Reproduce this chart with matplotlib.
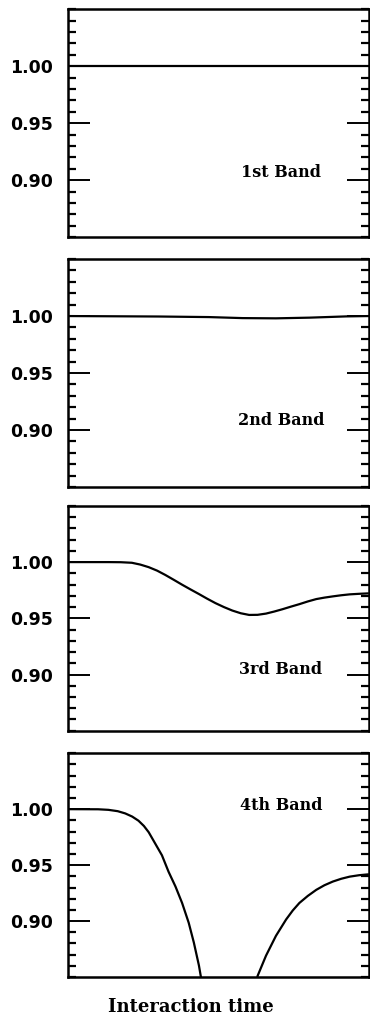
import matplotlib
matplotlib.use('Agg')
import matplotlib.pyplot as plt
import numpy as np
from matplotlib.ticker import MultipleLocator, FixedLocator

# data (x is interaction time, 0..1)
x1 = [0.0, 1.0]
y1 = [1.000, 1.000]

x2 = [0.0, 0.301, 0.468, 0.580, 0.691, 0.803, 0.925, 1.0]
y2 = [1.000, 0.9996, 0.9991, 0.9982, 0.9980, 0.9986, 0.9997, 1.000]

x3 = [0.0, 0.134, 0.175, 0.212, 0.240, 0.268, 0.296, 0.323, 0.351, 0.379,
      0.407, 0.435, 0.462, 0.490, 0.518, 0.546, 0.574, 0.602, 0.630,
      0.658, 0.685, 0.713, 0.741, 0.769, 0.797, 0.825, 0.852, 0.880, 0.908,
      0.936, 0.968, 1.0]
y3 = [1.000, 1.000, 0.9999, 0.9994, 0.9978, 0.9955, 0.9924, 0.9886, 0.9843,
      0.9799, 0.9757, 0.9716, 0.9675, 0.9635, 0.9600, 0.9569, 0.9545,
      0.9530, 0.9531, 0.9542, 0.9560, 0.9581, 0.9604, 0.9626, 0.9650,
      0.9671, 0.9684, 0.9695, 0.9705, 0.9713, 0.9718, 0.9722]

x4a = [0.0, 0.100, 0.134, 0.165, 0.190, 0.213, 0.234, 0.252, 0.268, 0.290,
       0.312, 0.334, 0.357, 0.379, 0.401, 0.418, 0.435, 0.448]
y4a = [1.000, 0.9999, 0.9994, 0.9982, 0.9962, 0.9934, 0.9897, 0.9850, 0.9794,
       0.9691, 0.9588, 0.9441, 0.9309, 0.9162, 0.8985, 0.8809, 0.8603, 0.840]
x4b = [0.625, 0.630, 0.658, 0.691, 0.725, 0.747, 0.769, 0.797, 0.825, 0.852,
       0.880, 0.908, 0.936, 0.968, 1.0]
y4b = [0.840, 0.851, 0.8691, 0.8868, 0.9015, 0.9095, 0.9162, 0.9225, 0.9279,
       0.9320, 0.9353, 0.9378, 0.9397, 0.9410, 0.9418]

labels = ['1st Band', '2nd Band', '3rd Band', '4th Band']
label_y = [0.907, 0.908, 0.9045, 1.0035]

fig = plt.figure(figsize=(3.70, 10.22), dpi=100)

# axes boxes in figure fractions [left, bottom, width, height]
boxes = [[0.184, 0.768, 0.813, 0.223],
         [0.184, 0.5235, 0.813, 0.223],
         [0.184, 0.285, 0.813, 0.220],
         [0.184, 0.044, 0.813, 0.219]]

series = [[(x1, y1)], [(x2, y2)], [(x3, y3)], [(x4a, y4a), (x4b, y4b)]]

for i in range(4):
    ax = fig.add_axes(boxes[i])
    for xs, ys in series[i]:
        ax.plot(xs, ys, color='black', lw=1.6, solid_capstyle='butt')
    ax.set_xlim(0, 1)
    ax.set_ylim(0.85, 1.05)
    ax.yaxis.set_major_locator(FixedLocator([0.90, 0.95, 1.00]))
    ax.yaxis.set_minor_locator(MultipleLocator(0.01))
    ax.set_xticks([])
    ax.tick_params(axis='y', which='major', direction='in', length=16, width=1.4,
                   left=True, right=True, pad=11, labelsize=12.5)
    ax.tick_params(axis='y', which='minor', direction='in', length=5.5, width=1.6,
                   left=True, right=True)
    ax.set_yticklabels(['0.90', '0.95', '1.00'], fontweight='bold',
                       family='DejaVu Sans')
    for s in ax.spines.values():
        s.set_linewidth(1.8)
    ax.text(0.707, label_y[i], labels[i], transform=ax.get_yaxis_transform(),
            ha='center', va='center', fontsize=11.5, fontweight='bold',
            family='DejaVu Serif')

fig.text(0.516, 0.0147, 'Interaction time', ha='center', va='center',
         fontsize=13, fontweight='bold', family='DejaVu Serif')

fig.savefig('out.png', dpi=100)
